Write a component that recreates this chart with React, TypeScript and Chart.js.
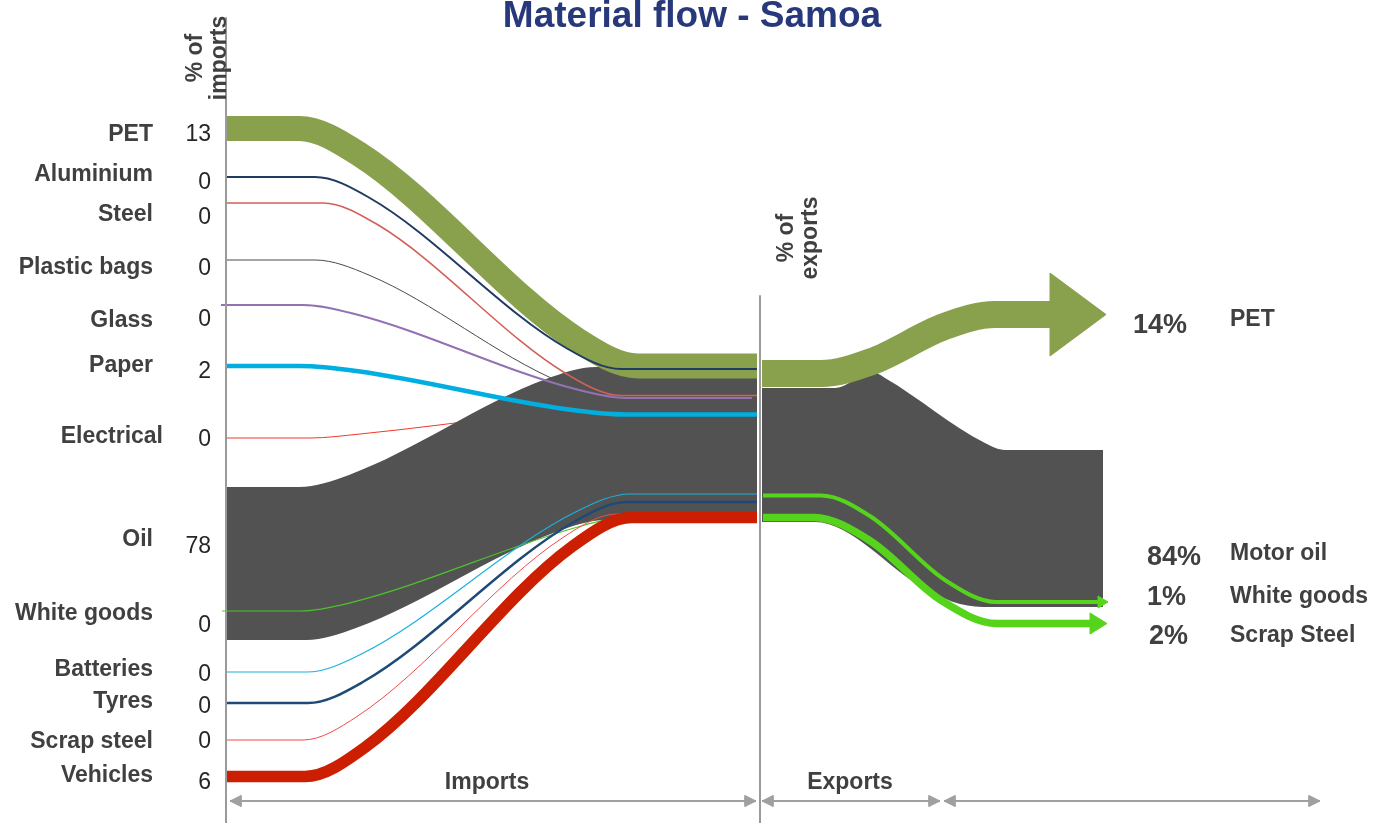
import React, { useEffect, useRef } from 'react';
import { Chart, registerables } from 'chart.js';

Chart.register(...registerables);

type Pt = [number, number];

const W = 1373;
const H = 823;
const FONT = '"Liberation Sans", Arial, Helvetica, sans-serif';

const TITLE = 'Material flow - Samoa';

// ---- import side (left) ----
const importCategories = ['PET', 'Aluminium', 'Steel', 'Plastic bags', 'Glass', 'Paper', 'Electrical', 'Oil', 'White goods', 'Batteries', 'Tyres', 'Scrap steel', 'Vehicles'];
const importShares = [13, 0, 0, 0, 0, 2, 0, 78, 0, 0, 0, 0, 6];
const importLabelY = [133, 173, 213, 266, 319, 364, 435, 538, 612, 668, 700, 740, 774];
const importLabelRight = [153, 153, 153, 153, 153, 153, 163, 153, 153, 153, 153, 153, 153];
const importValueY = [133, 181, 216, 267, 318, 370, 438, 545, 624, 673, 705, 740, 781];

// ---- export side (right) ----
const exportCategories = ['PET', 'Motor oil', 'White goods', 'Scrap Steel'];
const exportShares = [14, 84, 1, 2];
const exportLabelY = [318, 552, 595, 634];
const exportValueY = [323, 555, 595, 634];
const exportValueX = [1133, 1147, 1147, 1149];

// ---- flow paths (diagram units: x across, y down) ----
const petImport: Pt[] = [[227, 128.5], [299, 128.5], [359, 154], [578, 340.5], [638, 366], [757, 366]];
const aluminiumImport: Pt[] = [[227, 177], [315, 177], [369, 197.5], [567, 348.5], [621, 369], [757, 369]];
const steelImport: Pt[] = [[227, 203], [323, 203], [377, 224.3], [567, 374.2], [621, 395.5], [757, 395.5]];
const plasticBagsImport: Pt[] = [[227, 260], [315, 260], [369, 275.1], [560, 381.9], [614, 397], [757, 397]];
const glassImport: Pt[] = [[221, 305], [303, 305], [353, 313.5], [577, 389.5], [627, 398], [752, 398]];
const paperImport: Pt[] = [[227, 366], [300, 366], [358, 371.2], [567, 409.3], [625, 414.5], [757, 414.5]];
const electricalImport: Pt[] = [[227, 438], [310, 438], [360, 434], [520, 415]];
const oilImportTop: Pt[] = [[227, 487], [299, 487], [349, 474.9], [546, 379.1], [596, 367], [757, 367]];
const oilImportBottom: Pt[] = [[227, 640], [306, 640], [356, 628], [556, 532], [606, 520], [757, 520]];
const whiteGoodsImport: Pt[] = [[222, 611], [300, 611], [350, 602.8], [585, 525], [625, 517], [757, 517]];
const batteriesImport: Pt[] = [[227, 672], [307, 672], [361, 654.2], [576, 511.8], [630, 494], [757, 494]];
const tyresImport: Pt[] = [[227, 703], [308, 703], [362, 682.5], [573, 522.5], [627, 502], [757, 502]];
const scrapSteelImport: Pt[] = [[227, 740], [303, 740], [357, 716.5], [563, 537.5], [617, 514], [757, 514]];
const vehiclesImport: Pt[] = [[227, 776.5], [305, 776.5], [365, 747.4], [572, 546.6], [632, 517.5], [757, 517.5]];

const oilExportTop: Pt[] = [[762, 388], [835, 388], [873, 372], [885, 378], [985, 443], [1005, 450], [1103, 450]];
const oilExportBottom: Pt[] = [[762, 522], [815, 522], [927, 590], [960, 604], [990, 607], [1103, 607]];
const petExport: Pt[] = [[762, 373.5], [821, 373.5], [871, 361.8], [945, 326.3], [995, 314.5], [1052, 314.5]];
const petExportHead: Pt[] = [[1050, 273], [1106, 314.5], [1050, 356], [1050, 273]];
const whiteGoodsExport: Pt[] = [[763, 495.5], [821, 495.5], [871, 516.8], [946, 580.8], [996, 602], [1100, 602]];
const whiteGoodsExportHead: Pt[] = [[1098, 596], [1108, 602], [1098, 608], [1098, 596]];
const scrapSteelExport: Pt[] = [[763, 517.5], [814, 517.5], [870, 540.7], [941, 600.3], [997, 623.5], [1092, 623.5]];
const scrapSteelExportHead: Pt[] = [[1090, 613], [1107, 623.5], [1090, 634], [1090, 613]];

// ---- axes & range arrows ----
const importAxis: Pt[] = [[226, 18], [226, 823]];
const exportAxis: Pt[] = [[760, 296], [760, 823]];
const rangeY = 801;
const rangeSpans: Pt[] = [[230, 756], [762, 940], [944, 1320]];
const rangeLabels = ['Imports', 'Exports'];
const rangeLabelX = [487, 850];

function buildDatasets() {
  const ds: any[] = [];
  const layer = (path: Pt[], color: string, width: number, extra: any = {}) => {
    ds.push({
      data: path.map(([x, y]) => ({ x, y })),
      borderColor: color,
      backgroundColor: color,
      borderWidth: width,
      pointRadius: 0,
      pointHoverRadius: 0,
      pointHitRadius: 0,
      fill: false,
      tension: 0,
      cubicInterpolationMode: 'monotone',
      borderCapStyle: 'butt',
      borderJoinStyle: 'round',
      ...extra,
    });
    return ds.length - 1;
  };
  const band = (top: Pt[], bottom: Pt[], color: string) => {
    const t = layer(top, color, 0);
    const b = layer(bottom, color, 0);
    ds[t].fill = b;
  };
  const tri = (path: Pt[], color: string) =>
    layer(path, color, 1, { cubicInterpolationMode: 'default', fill: 'shape', borderJoinStyle: 'miter' });

  // bottom -> top
  layer(electricalImport, '#f2382a', 1);
  layer(plasticBagsImport, '#4a4a4a', 1);
  band(oilImportTop, oilImportBottom, '#525252');
  band(oilExportTop, oilExportBottom, '#525252');
  layer(glassImport, '#9272b2', 2);
  layer(steelImport, '#d35f58', 1.6);
  layer(petImport, '#89a04c', 25);
  layer(aluminiumImport, '#1f3a63', 2);
  layer(paperImport, '#00aee0', 4.5);
  layer(whiteGoodsImport, '#4cc32a', 1.2);
  layer(batteriesImport, '#1bb0e0', 1.2);
  layer(scrapSteelImport, '#f04a4a', 1);
  layer(tyresImport, '#1f4a78', 2.5);
  layer(vehiclesImport, '#cc1e00', 11.5);
  layer(petExport, '#89a04c', 27);
  tri(petExportHead, '#89a04c');
  layer(whiteGoodsExport, '#56d41c', 4);
  tri(whiteGoodsExportHead, '#56d41c');
  layer(scrapSteelExport, '#56d41c', 7.5);
  tri(scrapSteelExportHead, '#56d41c');

  layer(importAxis, '#9a9a9a', 2, { cubicInterpolationMode: 'default' });
  layer(exportAxis, '#9a9a9a', 2, { cubicInterpolationMode: 'default' });
  rangeSpans.forEach(([a, b]) => {
    layer([[a, rangeY], [b, rangeY]], '#a0a0a0', 2, { cubicInterpolationMode: 'default' });
    tri([[a, rangeY], [a + 11, rangeY - 5.5], [a + 11, rangeY + 5.5], [a, rangeY]], '#a0a0a0');
    tri([[b, rangeY], [b - 11, rangeY - 5.5], [b - 11, rangeY + 5.5], [b, rangeY]], '#a0a0a0');
  });

  ds.forEach((d, i) => { d.order = ds.length - i; });
  return ds;
}

const textPlugin = {
  id: 'diagramText',
  afterDraw(chart: any) {
    const ctx: CanvasRenderingContext2D = chart.ctx;
    const sx = chart.scales.x;
    const sy = chart.scales.y;
    const X = (v: number) => sx.getPixelForValue(v);
    const Y = (v: number) => sy.getPixelForValue(v);
    // y is the centre of the capital letters
    const text = (s: string, x: number, y: number, size: number, bold: boolean, color: string, align: CanvasTextAlign) => {
      ctx.font = `${bold ? 'bold ' : ''}${size}px ${FONT}`;
      ctx.fillStyle = color;
      ctx.textAlign = align;
      ctx.textBaseline = 'alphabetic';
      ctx.fillText(s, X(x), Y(y) + size * 0.358);
    };
    const vtext = (s: string, x: number, y: number, size: number, color: string) => {
      ctx.save();
      ctx.translate(X(x), Y(y));
      ctx.rotate(-Math.PI / 2);
      ctx.font = `bold ${size}px ${FONT}`;
      ctx.fillStyle = color;
      ctx.textAlign = 'center';
      ctx.textBaseline = 'alphabetic';
      ctx.fillText(s, 0, 0);
      ctx.restore();
    };
    ctx.save();
    const grey = '#404040';

    ctx.font = `bold 37px ${FONT}`;
    ctx.fillStyle = '#27397a';
    ctx.textAlign = 'center';
    ctx.textBaseline = 'alphabetic';
    ctx.fillText(TITLE, X(692), Y(27));

    vtext('% of', 202, 58, 23, grey);
    vtext('imports', 226, 58, 23, grey);
    vtext('% of', 793, 238, 23, grey);
    vtext('exports', 817, 238, 23, grey);

    importCategories.forEach((c, i) => {
      text(c, importLabelRight[i], importLabelY[i], 23, true, grey, 'right');
      text(String(importShares[i]), 211, importValueY[i], 23, false, '#262626', 'right');
    });
    exportCategories.forEach((c, i) => {
      text(`${exportShares[i]}%`, exportValueX[i], exportValueY[i], 27, true, grey, 'left');
      text(c, 1230, exportLabelY[i], 23, true, grey, 'left');
    });
    rangeLabels.forEach((s, i) => text(s, rangeLabelX[i], 781, 23, true, grey, 'center'));
    ctx.restore();
  },
};

export default function App() {
  const ref = useRef<HTMLCanvasElement>(null);
  useEffect(() => {
    const canvas = ref.current;
    if (!canvas) return;
    const chart = new Chart(canvas, {
      type: 'line',
      data: { datasets: buildDatasets() },
      options: {
        responsive: false,
        animation: false,
        devicePixelRatio: 1,
        events: [],
        layout: { padding: 0 },
        scales: {
          x: { type: 'linear', min: 0, max: W, display: false },
          y: { type: 'linear', min: 0, max: H, reverse: true, display: false },
        },
        plugins: {
          legend: { display: false },
          tooltip: { enabled: false },
          title: { display: false },
        },
      } as any,
      plugins: [textPlugin],
    });
    return () => chart.destroy();
  }, []);
  return (
    <div style={{ position: 'absolute', left: 0, top: 0, width: W, height: H, background: '#fff' }}>
      <canvas ref={ref} width={W} height={H} style={{ display: 'block', width: W, height: H }} />
    </div>
  );
}
